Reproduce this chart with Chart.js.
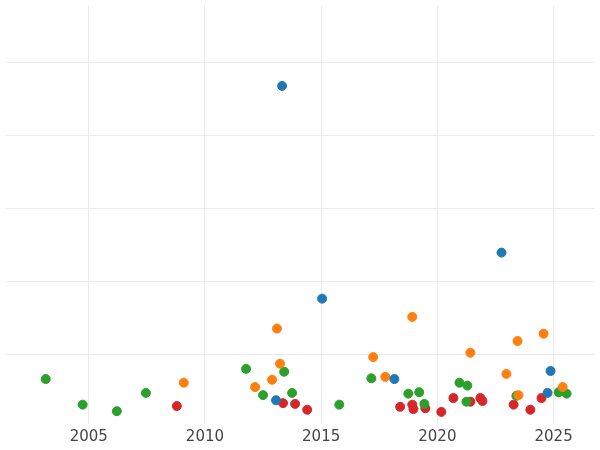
<!DOCTYPE html>
<html>
<head>
<meta charset="utf-8">
<script src="https://cdn.jsdelivr.net/npm/chart.js@4"></script>
<style>
  body { margin: 0; background: #fff; }
  #wrap { width: 600px; height: 450px; }
</style>
</head>
<body>
<div id="wrap"><canvas id="chart"></canvas></div>
<script>
// ================= DATA =================
const blueX = [2013.32, 2022.76, 2015.04, 2024.87, 2018.15, 2013.06, 2024.74];
const blueY = [4.68, 2.40, 1.77, 0.78, 0.67, 0.38, 0.48];

const orangeX = [2013.10, 2018.92, 2023.45, 2024.57, 2017.24, 2021.42, 2013.23, 2009.09, 2012.16, 2012.89, 2017.76, 2022.97, 2023.49, 2025.39];
const orangeY = [1.36, 1.52, 1.19, 1.29, 0.97, 1.03, 0.88, 0.62, 0.56, 0.66, 0.70, 0.74, 0.45, 0.56];

const greenX = [2003.15, 2004.74, 2006.21, 2007.46, 2011.77, 2012.50, 2013.41, 2013.75, 2015.78, 2017.16, 2018.75, 2019.22, 2019.44, 2020.95, 2021.29, 2021.25, 2023.40, 2025.22, 2025.56];
const greenY = [0.67, 0.32, 0.23, 0.48, 0.81, 0.45, 0.77, 0.48, 0.32, 0.68, 0.47, 0.49, 0.33, 0.62, 0.58, 0.36, 0.44, 0.49, 0.47];

const redX = [2008.79, 2013.36, 2013.88, 2014.40, 2018.40, 2018.92, 2018.97, 2019.48, 2020.17, 2020.69, 2021.42, 2021.85, 2021.94, 2023.28, 2024.00, 2024.48];
const redY = [0.30, 0.34, 0.33, 0.25, 0.29, 0.32, 0.26, 0.27, 0.22, 0.41, 0.36, 0.41, 0.37, 0.32, 0.25, 0.41];

const xTicks = [2005, 2010, 2015, 2020, 2025];
const yTicks = [1, 2, 3, 4, 5];

// ================= CHART =================
const pts = (xs, ys) => xs.map((x, i) => ({ x, y: ys[i] }));
const series = (data, color) => ({
    data,
    backgroundColor: color,
    borderColor: color,
    pointRadius: 4.5,
    pointHoverRadius: 4.5
});

new Chart(document.getElementById('chart'), {
    type: 'scatter',
    data: {
        datasets: [
            series(pts(blueX, blueY), '#1f77b4'),
            series(pts(orangeX, orangeY), '#ff7f0e'),
            series(pts(greenX, greenY), '#2ca02c'),
            series(pts(redX, redY), '#d62728')
        ]
    },
    options: {
        responsive: true,
        maintainAspectRatio: false,
        animation: false,
        layout: { padding: 0 },
        plugins: { legend: { display: false }, tooltip: { enabled: false } },
        scales: {
            x: {
                type: 'linear',
                min: 2001.42,
                max: 2026.76,
                afterBuildTicks: axis => { axis.ticks = xTicks.map(v => ({ value: v })); },
                grid: { color: '#ebebeb', drawTicks: false },
                border: { display: false },
                ticks: {
                    color: '#444',
                    font: { family: 'DejaVu Sans', size: 15 },
                    padding: 4,
                    callback: v => String(v)
                }
            },
            y: {
                min: 0.055,
                max: 5.78,
                afterBuildTicks: axis => { axis.ticks = yTicks.map(v => ({ value: v })); },
                ticks: { display: false },
                grid: { color: '#ebebeb', drawTicks: false },
                border: { display: false }
            }
        }
    }
});
</script>
</body>
</html>
